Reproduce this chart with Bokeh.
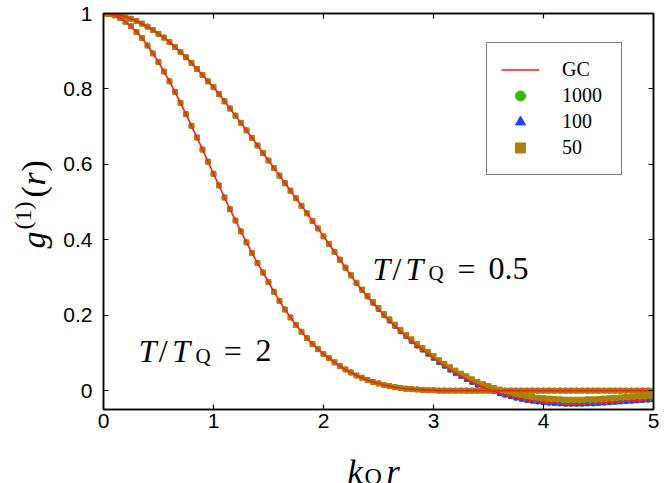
from bokeh.plotting import figure
from bokeh.layouts import row, column
from bokeh.models import Range1d, LinearAxis, FixedTicker, Label, Legend, LegendItem
from bokeh.embed import file_html
from bokeh.resources import INLINE

# ---------------- data ----------------
r_vals = [0.00, 0.05, 0.10, 0.15, 0.20, 0.25, 0.30, 0.35, 0.40, 0.45,
          0.50, 0.55, 0.60, 0.65, 0.70, 0.75, 0.80, 0.85, 0.90, 0.95,
          1.00, 1.05, 1.10, 1.15, 1.20, 1.25, 1.30, 1.35, 1.40, 1.45,
          1.50, 1.55, 1.60, 1.65, 1.70, 1.75, 1.80, 1.85, 1.90, 1.95,
          2.00, 2.05, 2.10, 2.15, 2.20, 2.25, 2.30, 2.35, 2.40, 2.45,
          2.50, 2.55, 2.60, 2.65, 2.70, 2.75, 2.80, 2.85, 2.90, 2.95,
          3.00, 3.05, 3.10, 3.15, 3.20, 3.25, 3.30, 3.35, 3.40, 3.45,
          3.50, 3.55, 3.60, 3.65, 3.70, 3.75, 3.80, 3.85, 3.90, 3.95,
          4.00, 4.05, 4.10, 4.15, 4.20, 4.25, 4.30, 4.35, 4.40, 4.45,
          4.50, 4.55, 4.60, 4.65, 4.70, 4.75, 4.80, 4.85, 4.90, 4.95,
          5.00]

# GC curve, T/T_Q = 0.5
gc_half = [1.000, 0.999, 0.998, 0.995, 0.991, 0.986, 0.980, 0.973, 0.965, 0.956,
           0.946, 0.936, 0.924, 0.911, 0.898, 0.884, 0.869, 0.853, 0.837, 0.820,
           0.805, 0.786, 0.767, 0.748, 0.729, 0.710, 0.690, 0.670, 0.650, 0.630,
           0.610, 0.590, 0.570, 0.550, 0.530, 0.510, 0.490, 0.470, 0.450, 0.430,
           0.409, 0.389, 0.368, 0.347, 0.326, 0.305, 0.285, 0.266, 0.249, 0.232,
           0.216, 0.200, 0.185, 0.171, 0.157, 0.144, 0.131, 0.119, 0.108, 0.097,
           0.086, 0.075, 0.065, 0.055, 0.046, 0.038, 0.030, 0.022, 0.015, 0.009,
           0.003, -0.002, -0.007, -0.011, -0.015, -0.019, -0.022, -0.025, -0.027, -0.029,
           -0.031, -0.032, -0.033, -0.034, -0.035, -0.035, -0.035, -0.035, -0.034, -0.034,
           -0.033, -0.032, -0.031, -0.030, -0.029, -0.028, -0.027, -0.026, -0.025, -0.024,
           -0.023]

# GC curve, T/T_Q = 2
gc_two = [1.000, 0.999, 0.995, 0.988, 0.978, 0.966, 0.951, 0.935, 0.915, 0.894,
          0.871, 0.846, 0.820, 0.792, 0.763, 0.733, 0.702, 0.671, 0.639, 0.607,
          0.575, 0.544, 0.512, 0.481, 0.451, 0.422, 0.393, 0.365, 0.338, 0.313,
          0.288, 0.262, 0.238, 0.215, 0.194, 0.174, 0.156, 0.139, 0.124, 0.110,
          0.097, 0.086, 0.075, 0.065, 0.056, 0.048, 0.040, 0.034, 0.028, 0.023,
          0.019, 0.015, 0.012, 0.009, 0.007, 0.005, 0.004, 0.003, 0.002, 0.001,
          0.001, 0.000, 0.000, 0.000, 0.000, 0.000, 0.000, 0.000, 0.000, 0.000,
          0.000, 0.000, 0.000, 0.000, 0.000, 0.000, 0.000, 0.000, 0.000, 0.000,
          0.000, 0.000, 0.000, 0.000, 0.000, 0.000, 0.000, 0.000, 0.000, 0.000,
          0.000, 0.000, 0.000, 0.000, 0.000, 0.000, 0.000, 0.000, 0.000, 0.000,
          0.000]

# N = 1000 (coincides with GC)
n1000_half = list(gc_half)
n1000_two = list(gc_two)

# N = 100, T/T_Q = 0.5
n100_half = [1.000, 0.999, 0.998, 0.995, 0.991, 0.986, 0.980, 0.973, 0.965, 0.956,
             0.946, 0.936, 0.924, 0.911, 0.898, 0.884, 0.869, 0.853, 0.837, 0.820,
             0.805, 0.786, 0.767, 0.748, 0.729, 0.710, 0.690, 0.670, 0.650, 0.630,
             0.610, 0.590, 0.570, 0.550, 0.530, 0.510, 0.490, 0.470, 0.450, 0.430,
             0.409, 0.389, 0.368, 0.347, 0.326, 0.305, 0.285, 0.266, 0.249, 0.232,
             0.215, 0.199, 0.184, 0.170, 0.156, 0.143, 0.130, 0.118, 0.107, 0.096,
             0.085, 0.074, 0.064, 0.054, 0.045, 0.037, 0.029, 0.021, 0.014, 0.007,
             0.001, -0.004, -0.009, -0.013, -0.017, -0.021, -0.024, -0.027, -0.029, -0.031,
             -0.033, -0.034, -0.035, -0.036, -0.037, -0.037, -0.037, -0.037, -0.036, -0.036,
             -0.035, -0.034, -0.033, -0.032, -0.031, -0.030, -0.029, -0.028, -0.027, -0.026,
             -0.025]
n100_two = list(gc_two)

# N = 50, T/T_Q = 0.5
n50_half = [1.000, 0.999, 0.998, 0.995, 0.991, 0.986, 0.980, 0.973, 0.965, 0.956,
            0.946, 0.936, 0.924, 0.911, 0.898, 0.884, 0.869, 0.853, 0.837, 0.820,
            0.805, 0.786, 0.767, 0.748, 0.729, 0.710, 0.690, 0.670, 0.650, 0.630,
            0.610, 0.590, 0.570, 0.550, 0.530, 0.510, 0.490, 0.470, 0.450, 0.430,
            0.409, 0.389, 0.368, 0.347, 0.326, 0.306, 0.286, 0.268, 0.251, 0.235,
            0.219, 0.203, 0.189, 0.175, 0.161, 0.148, 0.136, 0.124, 0.113, 0.103,
            0.092, 0.081, 0.071, 0.062, 0.053, 0.045, 0.038, 0.030, 0.023, 0.017,
            0.012, 0.007, 0.003, -0.001, -0.005, -0.009, -0.012, -0.015, -0.017, -0.019,
            -0.020, -0.021, -0.022, -0.023, -0.024, -0.024, -0.024, -0.024, -0.023, -0.023,
            -0.022, -0.021, -0.020, -0.019, -0.018, -0.017, -0.016, -0.015, -0.014, -0.013,
            -0.012]
n50_two = list(gc_two)

x_ticks = [0, 1, 2, 3, 4, 5]
x_tick_labels = ["0", "1", "2", "3", "4", "5"]
y_ticks = [0, 0.2, 0.4, 0.6, 0.8, 1]
y_tick_labels = ["0", "0.2", "0.4", "0.6", "0.8", "1"]

series_labels = ["GC", "1000", "100", "50"]

# ---------------- styling ----------------
RED = "#ff1a1a"
GREEN = "#36b80c"
BLUE = "#1f3fff"
OLIVE = "#a8820a"
TICK_FONT = "Liberation Sans"
MATH_FONT = "Liberation Serif"

YLAB_W = 60               # strip holding the y-axis title
MAIN_W = 664 - YLAB_W
MAIN_H = 437
XLAB_H = 483 - MAIN_H     # strip holding the x-axis title
BORDER_L = 103 - YLAB_W
BORDER_R = 11

p = figure(width=MAIN_W, height=MAIN_H, title=None,
           x_range=Range1d(0, 5), y_range=Range1d(-0.05, 1),
           output_backend="svg", toolbar_location=None,
           min_border_left=BORDER_L, min_border_right=BORDER_R,
           min_border_top=13, min_border_bottom=28,
           background_fill_color="white", border_fill_color="white")

p.xgrid.visible = False
p.ygrid.visible = False
p.outline_line_color = "black"
p.outline_line_width = 1.5


def style_axis(ax, ticks, labels, standoff, show_labels=True):
    ax.ticker = FixedTicker(ticks=ticks)
    ax.major_label_overrides = {t: l for t, l in zip(ticks, labels)}
    ax.major_tick_in = 5
    ax.major_tick_out = 0
    ax.minor_tick_line_color = None
    ax.major_tick_line_color = "black"
    ax.major_tick_line_width = 1.2
    ax.axis_line_color = "black"
    ax.axis_line_width = 1.5
    ax.major_label_standoff = standoff
    if show_labels:
        ax.major_label_text_font = TICK_FONT
        ax.major_label_text_font_size = "21px"
        ax.major_label_text_color = "black"
    else:
        ax.major_label_text_font_size = "4px"
        ax.major_label_text_color = None


style_axis(p.xaxis[0], x_ticks, x_tick_labels, 4)
style_axis(p.yaxis[0], y_ticks, y_tick_labels, 11)

top_ax = LinearAxis()
style_axis(top_ax, x_ticks, x_tick_labels, 0, show_labels=False)
p.add_layout(top_ax, "above")
right_ax = LinearAxis()
style_axis(right_ax, y_ticks, y_tick_labels, 0, show_labels=False)
p.add_layout(right_ax, "right")

# ---------------- glyphs ----------------
g1000a = p.scatter(r_vals, n1000_half, marker="circle", size=5, color=GREEN)
p.scatter(r_vals, n1000_two, marker="circle", size=5, color=GREEN)
g100a = p.scatter(r_vals, n100_half, marker="triangle", size=5, color=BLUE)
p.scatter(r_vals, n100_two, marker="triangle", size=5, color=BLUE)
g50a = p.scatter(r_vals, n50_half, marker="square", size=5, color=OLIVE)
p.scatter(r_vals, n50_two, marker="square", size=5, color=OLIVE)
gca = p.line(r_vals, gc_half, color=RED, line_width=1.6)
p.line(r_vals, gc_two, color=RED, line_width=1.6)

legend = Legend(items=[LegendItem(label=series_labels[0], renderers=[gca]),
                       LegendItem(label=series_labels[1], renderers=[g1000a]),
                       LegendItem(label=series_labels[2], renderers=[g100a]),
                       LegendItem(label=series_labels[3], renderers=[g50a])],
                location=(383, 234), margin=0, padding=14, spacing=1,
                glyph_width=38, glyph_height=25, label_height=25,
                label_width=45, label_standoff=23,
                label_text_font=MATH_FONT, label_text_font_size="20px",
                label_text_color="black",
                border_line_color="black", border_line_width=1.2,
                background_fill_color="white", background_fill_alpha=1.0)
p.add_layout(legend)


def add_text(fig, x, y, text, size, italic=False, angle=0):
    fig.add_layout(Label(x=x, y=y, text=text, angle=angle,
                         text_font=MATH_FONT,
                         text_font_size=f"{size}px",
                         text_font_style="italic" if italic else "normal",
                         text_color="black", text_baseline="alphabetic",
                         text_align="left"))


# annotation: T/T_Q = 0.5
add_text(p, 2.445, 0.323, "T", 32, True)
add_text(p, 2.627, 0.323, "/", 32)
add_text(p, 2.745, 0.323, "T", 32, True)
add_text(p, 2.955, 0.311, "Q", 21)
add_text(p, 3.218, 0.323, "=", 32)
add_text(p, 3.500, 0.323, "0.5", 32)

# annotation: T/T_Q = 2
add_text(p, 0.321, 0.106, "T", 32, True)
add_text(p, 0.503, 0.106, "/", 32)
add_text(p, 0.625, 0.106, "T", 32, True)
add_text(p, 0.836, 0.093, "Q", 21)
add_text(p, 1.094, 0.106, "=", 32)
add_text(p, 1.382, 0.106, "2", 32)


# ---------------- axis-title strips (page-pixel coordinates) ----------------
def blank_fig(w, h, x0, x1, bl=0, br=0):
    f = figure(width=w, height=h, title=None,
               x_range=Range1d(x0, x1), y_range=Range1d(0, h),
               x_axis_location=None, y_axis_location=None,
               output_backend="svg", toolbar_location=None,
               min_border=0, min_border_left=bl, min_border_right=br,
               min_border_top=0, min_border_bottom=0,
               background_fill_color="white", border_fill_color="white")
    f.xgrid.visible = False
    f.ygrid.visible = False
    f.outline_line_color = None
    return f


# y title: g^(1)(r), rotated (y measured up from the page bottom)
yfig = blank_fig(YLAB_W, 483, 0, YLAB_W)
ANG = 1.5707963
add_text(yfig, 33, 235, "g", 34, True, angle=ANG)
add_text(yfig, 22, 254, "(1)", 24, False, angle=ANG)
add_text(yfig, 33, 286, "(", 34, False, angle=ANG)
add_text(yfig, 33, 298, "r", 34, True, angle=ANG)
add_text(yfig, 33, 312, ")", 34, False, angle=ANG)

# x title: k_Q r ; this strip's frame lines up with the main frame (page x 103..653)
xfig = blank_fig(MAIN_W, XLAB_H, 103, 653, bl=BORDER_L, br=BORDER_R)
add_text(xfig, 347, 12, "k", 34, True)
add_text(xfig, 364, 8, "Q", 24)
add_text(xfig, 386, 12, "r", 34, True)

layout = row(yfig, column(p, xfig, spacing=0), spacing=0)

open("out.html", "w").write(file_html(layout, INLINE))
